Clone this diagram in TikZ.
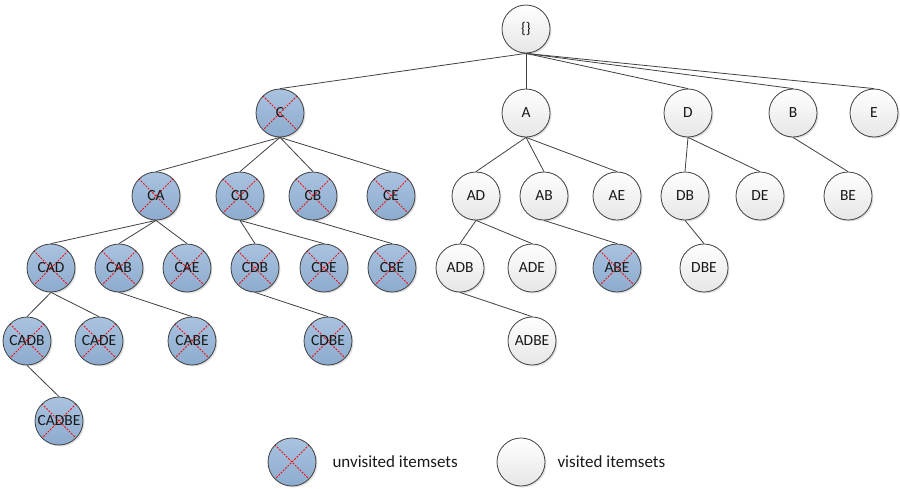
\documentclass[tikz,border=0pt]{standalone}
\usepackage{fontspec}
\setmainfont{Carlito}
\usetikzlibrary{shadows}
\definecolor{edgegray}{HTML}{404040}
\definecolor{bluetop}{HTML}{A9C3E0}
\definecolor{bluebot}{HTML}{8DABCE}
\definecolor{whitebot}{HTML}{E6E6E6}
\tikzset{
  itemnode/.style={circle, minimum size=48pt, inner sep=0pt, draw=edgegray, line width=0.8pt,
    font=\fontsize{15.5}{17}\selectfont, text=black!90,
    drop shadow={opacity=0.25, shadow xshift=1.5pt, shadow yshift=-1.5pt}},
  visited/.style={itemnode, top color=white, bottom color=whitebot},
  unvisited/.style={itemnode, top color=bluetop, bottom color=bluebot,
    path picture={
      \draw[red, line width=0.9pt, dash pattern=on 1.8pt off 1.4pt]
        (path picture bounding box.north west) -- (path picture bounding box.south east)
        (path picture bounding box.north east) -- (path picture bounding box.south west);}},
  link/.style={draw=edgegray, line width=0.8pt},
  legendtext/.style={anchor=west, font=\fontsize{17}{19}\selectfont, text=black!90}
}
\begin{document}
\begin{tikzpicture}[x=1pt, y=-1pt]
\useasboundingbox (0,0) rectangle (900,488);
% root
\node[visited] (root) at (526,29) {\{\}};
% level 1
\node[unvisited] (C) at (280,113) {C};
\node[visited] (A) at (526,113) {A};
\node[visited] (D) at (688,113) {D};
\node[visited] (B) at (793,113) {B};
\node[visited] (E) at (874,113) {E};
% level 2
\node[unvisited] (CA) at (156,196) {CA};
\node[unvisited] (CD) at (240,196) {CD};
\node[unvisited] (CB) at (313,196) {CB};
\node[unvisited] (CE) at (391,196) {CE};
\node[visited] (AD) at (476,196) {AD};
\node[visited] (AB) at (544,196) {AB};
\node[visited] (AE) at (617,196) {AE};
\node[visited] (DB) at (685,196) {DB};
\node[visited] (DE) at (760,196) {DE};
\node[visited] (BE) at (848,196) {BE};
% level 3
\node[unvisited] (CAD) at (51,268) {CAD};
\node[unvisited] (CAB) at (119,268) {CAB};
\node[unvisited] (CAE) at (187,268) {CAE};
\node[unvisited] (CDB) at (255,268) {CDB};
\node[unvisited] (CDE) at (324,268) {CDE};
\node[unvisited] (CBE) at (392,268) {CBE};
\node[visited] (ADB) at (460,268) {ADB};
\node[visited] (ADE) at (532,268) {ADE};
\node[unvisited] (ABE) at (617,268) {ABE};
\node[visited] (DBE) at (704,268) {DBE};
% level 4
\node[unvisited] (CADB) at (27,341) {CADB};
\node[unvisited] (CADE) at (99,341) {CADE};
\node[unvisited] (CABE) at (192,341) {CABE};
\node[unvisited] (CDBE) at (328,341) {CDBE};
\node[visited] (ADBE) at (532,341) {ADBE};
% level 5
\node[unvisited] (CADBE) at (59,421) {CADBE};
% edges
\foreach \c in {C,A,D,B,E} \draw[link] (root.south) -- (\c.north);
\foreach \c in {CA,CD,CB,CE} \draw[link] (C.south) -- (\c.north);
\foreach \c in {AD,AB,AE} \draw[link] (A.south) -- (\c.north);
\foreach \c in {DB,DE} \draw[link] (D.south) -- (\c.north);
\draw[link] (B.south) -- (BE.north);
\foreach \c in {CAD,CAB,CAE} \draw[link] (CA.south) -- (\c.north);
\foreach \c in {CDB,CDE} \draw[link] (CD.south) -- (\c.north);
\draw[link] (CB.south) -- (CBE.north);
\foreach \c in {ADB,ADE} \draw[link] (AD.south) -- (\c.north);
\draw[link] (AB.south) -- (ABE.north);
\draw[link] (DB.south) -- (DBE.north);
\foreach \c in {CADB,CADE} \draw[link] (CAD.south) -- (\c.north);
\draw[link] (CAB.south) -- (CABE.north);
\draw[link] (CDB.south) -- (CDBE.north);
\draw[link] (ADB.south) -- (ADBE.north);
\draw[link] (CADB.south) -- (CADBE.north);
% legend
\node[unvisited] (legU) at (292,462) {};
\node[legendtext] (legUt) at (329,462) {unvisited itemsets};
\node[visited] (legV) at (521,462) {};
\node[legendtext] (legVt) at (554,462) {visited itemsets};
\end{tikzpicture}
\end{document}
